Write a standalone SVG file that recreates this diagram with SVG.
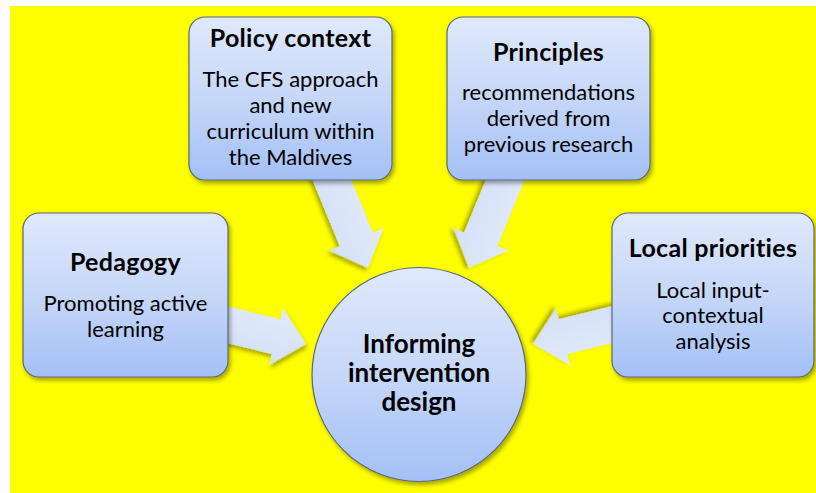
<svg xmlns="http://www.w3.org/2000/svg" width="816" height="493" viewBox="0 0 816 493">
  <defs>
    <linearGradient id="boxGrad" x1="0" y1="0" x2="0" y2="1">
      <stop offset="0" stop-color="#e0e9fb"/>
      <stop offset="0.5" stop-color="#c6d7f8"/>
      <stop offset="1" stop-color="#a3c0f6"/>
    </linearGradient>
    <linearGradient id="arrowGrad" x1="0" y1="0" x2="0" y2="1">
      <stop offset="0" stop-color="#e2eafa"/>
      <stop offset="1" stop-color="#d3e0f7"/>
    </linearGradient>
    <filter id="shadow" x="-20%" y="-20%" width="140%" height="140%">
      <feDropShadow dx="2" dy="3" stdDeviation="2.2" flood-color="#000" flood-opacity="0.35"/>
    </filter>
    <path id="arrowShape" d="M0,0 L-31,-29.5 L-31,-18 L-130,-18 L-130,18 L-31,18 L-31,29.5 Z"/>
  </defs>
  <style>
    .box { fill: url(#boxGrad); stroke: #5b6778; stroke-width: 1.2; filter: url(#shadow); }
    .arrow { fill: url(#arrowGrad); filter: url(#shadow); }
    .title { font-family: Lato, "Liberation Sans", sans-serif; font-weight: bold; font-size: 25px; letter-spacing: 0.3px; fill: #000; text-anchor: middle; }
    .body { font-family: Lato, "Liberation Sans", sans-serif; font-size: 22px; fill: #000; text-anchor: middle; }
    .center { font-family: Lato, "Liberation Sans", sans-serif; font-weight: bold; font-size: 26px; fill: #000; text-anchor: middle; }
  </style>
  <rect x="10" y="6" width="806" height="487" fill="#ffff00"/>

  <g id="connectors">
    <use href="#arrowShape" class="arrow" transform="translate(306,344) rotate(13.8)"/>
    <use href="#arrowShape" class="arrow" transform="translate(533,344) rotate(166.2)"/>
    <use href="#arrowShape" class="arrow" transform="translate(368,268) rotate(67.7)"/>
    <use href="#arrowShape" class="arrow" transform="translate(469,268) rotate(112.3)"/>
  </g>

  <g id="policy">
    <rect class="box" x="189" y="17" width="203" height="163" rx="16"/>
    <text class="title" x="290.5" y="47">Policy context</text>
    <text class="body" x="290.5" y="87">The CFS approach</text>
    <text class="body" x="290.5" y="113">and new</text>
    <text class="body" x="290.5" y="139">curriculum within</text>
    <text class="body" x="290.5" y="165">the Maldives</text>
  </g>

  <g id="principles">
    <rect class="box" x="447" y="17" width="203" height="163" rx="16"/>
    <text class="title" x="548.5" y="61">Principles</text>
    <text class="body" x="548.5" y="100">recommendations</text>
    <text class="body" x="548.5" y="126">derived from</text>
    <text class="body" x="548.5" y="152">previous research</text>
  </g>

  <g id="pedagogy">
    <rect class="box" x="23" y="213" width="205" height="164" rx="16"/>
    <text class="title" x="125.5" y="271">Pedagogy</text>
    <text class="body" x="125.5" y="311">Promoting active</text>
    <text class="body" x="125.5" y="337">learning</text>
  </g>

  <g id="local">
    <rect class="box" x="612" y="213" width="202" height="164" rx="16"/>
    <text class="title" x="713" y="257">Local priorities</text>
    <text class="body" x="713" y="298">Local input-</text>
    <text class="body" x="713" y="323">contextual</text>
    <text class="body" x="713" y="349">analysis</text>
  </g>

  <g id="design">
    <circle class="box" cx="419" cy="374.5" r="107"/>
    <text class="center" x="419" y="353">Informing</text>
    <text class="center" x="419" y="382">intervention</text>
    <text class="center" x="419" y="411">design</text>
  </g>
</svg>
